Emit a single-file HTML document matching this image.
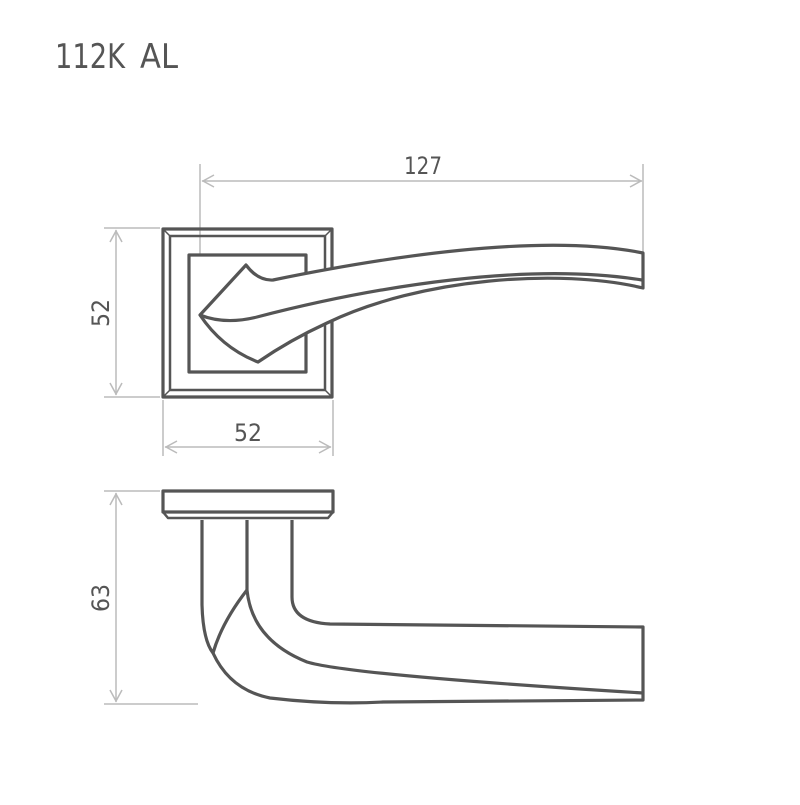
<!DOCTYPE html>
<html><head><style>html,body{margin:0;padding:0;background:#fff}</style></head>
<body>
<svg width="800" height="800" viewBox="0 0 800 800" xmlns="http://www.w3.org/2000/svg">
<g font-family="'DejaVu Sans','Liberation Sans',sans-serif" fill="#555">
<text x="55" y="68" font-size="34" textLength="70" lengthAdjust="spacingAndGlyphs">112K</text>
<text x="140" y="68" font-size="34" textLength="38" lengthAdjust="spacingAndGlyphs">AL</text>
<text x="423" y="174" font-size="24" text-anchor="middle" textLength="38" lengthAdjust="spacingAndGlyphs">127</text>
<text x="248" y="441" font-size="24" text-anchor="middle" textLength="28" lengthAdjust="spacingAndGlyphs">52</text>
<text transform="translate(109,313) rotate(-90)" font-size="24" text-anchor="middle" textLength="28" lengthAdjust="spacingAndGlyphs">52</text>
<text transform="translate(109,598) rotate(-90)" font-size="24" text-anchor="middle" textLength="28" lengthAdjust="spacingAndGlyphs">63</text>
</g>
<g stroke="#bbb" stroke-width="1.5" fill="none">
<line x1="200" y1="164" x2="200" y2="315"/><line x1="643" y1="164" x2="643" y2="255"/>
<line x1="202" y1="181" x2="642" y2="181"/>
<path d="M214,175 L203,181 L214,187 M630,175 L641,181 L630,187"/>
<line x1="104" y1="228" x2="160" y2="228"/><line x1="104" y1="397" x2="160" y2="397"/>
<line x1="116" y1="230" x2="116" y2="395"/>
<path d="M110,242 L116,231 L122,242 M110,383 L116,394 L122,383"/>
<line x1="163" y1="400" x2="163" y2="456"/><line x1="333" y1="400" x2="333" y2="456"/>
<line x1="165" y1="447" x2="331" y2="447"/>
<path d="M177,441 L166,447 L177,453 M319,441 L330,447 L319,453"/>
<line x1="104" y1="491" x2="160" y2="491"/><line x1="104" y1="704" x2="198" y2="704"/>
<line x1="116" y1="493" x2="116" y2="702"/>
<path d="M110,505 L116,494 L122,505 M110,690 L116,701 L122,690"/>
</g>
<g stroke="#555" stroke-width="3.2" fill="none" stroke-linejoin="round">
<rect x="163" y="229" width="169" height="168"/>
<rect x="170" y="236" width="155" height="154" stroke-width="2.5"/>
<path d="M163,229 L170,236 M332,229 L325,236 M163,397 L170,390 M332,397 L325,390" stroke-width="1.5"/>
<rect x="189" y="255" width="117" height="117" fill="#fff"/>
<path d="M200,315 L246,265 Q258,281 273,280 C380,258 540,232 643,253 L643,288 C560,268 420,278 327,323 Q290,340 258,362 Q222,348 200,315 Z" fill="#fff"/>
<path d="M200,315 Q225,325 257,317 C380,285 530,262 642,280"/>
<rect x="163" y="491" width="170" height="21" fill="#fff"/>
<path d="M163,512 L168,518 L328,518 L333,512" stroke-width="2.5"/>
<path d="M202,520 L202,605 Q203,640 213,653 Q230,690 270,698 Q330,705 383,702 L643,700 L643,627 L330,624 Q292,622 292,597 L292,520"/>
<path d="M247,520 L247,590 Q252,640 307,662 Q350,675 643,693"/>
<path d="M247,590 Q222,622 213,653"/>
</g>
</svg>
</body></html>
